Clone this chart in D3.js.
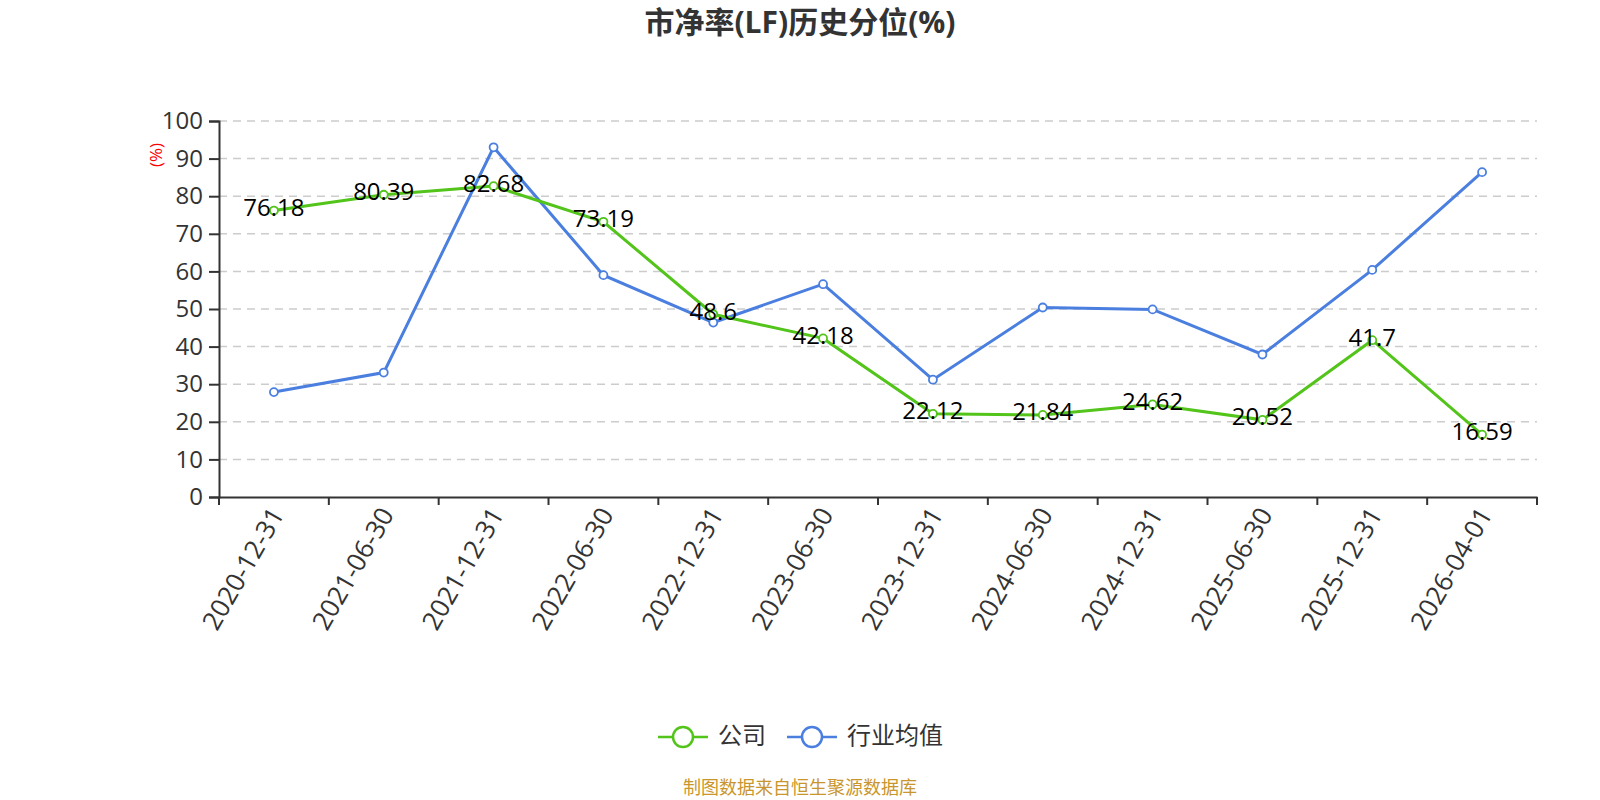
<!DOCTYPE html>
<html>
<head>
<meta charset="utf-8">
<script src="https://cdn.jsdelivr.net/npm/d3@7/dist/d3.min.js"></script>
<style>
  body { margin: 0; background: #fff; }
  svg { font-family: "Open Sans", "Noto Sans CJK SC", sans-serif; }
</style>
</head>
<body>
<svg id="chart" width="1600" height="800"></svg>
<script>
const categories = ["2020-12-31", "2021-06-30", "2021-12-31", "2022-06-30", "2022-12-31", "2023-06-30",
  "2023-12-31", "2024-06-30", "2024-12-31", "2025-06-30", "2025-12-31", "2026-04-01"];
const company = [76.18, 80.39, 82.68, 73.19, 48.6, 42.18, 22.12, 21.84, 24.62, 20.52, 41.7, 16.59];
const industry = [27.9, 33.1, 93.0, 59.0, 46.4, 56.6, 31.2, 50.4, 49.9, 37.9, 60.4, 86.4];
const yTicks = [0, 10, 20, 30, 40, 50, 60, 70, 80, 90, 100];

const svg = d3.select("#chart");
const margin = { top: 121, right: 63, bottom: 303, left: 219 };
const width = 1600 - margin.left - margin.right;
const height = 800 - margin.top - margin.bottom;

const x = d3.scaleBand().domain(categories).range([margin.left, margin.left + width]);
const y = d3.scaleLinear().domain([0, 100]).range([margin.top + height, margin.top]);
const cx = d => x(d) + x.bandwidth() / 2;

// title
svg.append("text")
  .attr("x", 800).attr("y", 33)
  .attr("text-anchor", "middle")
  .attr("font-size", 30).attr("font-weight", "bold")
  .attr("fill", "#333")
  .text("市净率(LF)历史分位(%)");

// grid
svg.append("g")
  .selectAll("line")
  .data(yTicks.filter(d => d > 0))
  .enter()
  .append("line")
  .attr("x1", margin.left).attr("x2", margin.left + width)
  .attr("y1", d => y(d)).attr("y2", d => y(d))
  .attr("stroke", "#ccc").attr("stroke-width", 1.5)
  .attr("stroke-dasharray", "8,6");

// y axis
const yAxis = svg.append("g")
  .attr("transform", `translate(${margin.left}, 0)`)
  .call(d3.axisLeft(y).tickValues(yTicks).tickSize(10).tickPadding(6));
yAxis.select(".domain").attr("stroke", "#333").attr("stroke-width", 2);
yAxis.selectAll(".tick line").attr("stroke", "#333").attr("stroke-width", 2);
yAxis.selectAll(".tick text").attr("font-size", 24).attr("fill", "#333")
  .attr("font-family", "'Open Sans', sans-serif");

svg.append("text")
  .attr("transform", `translate(162, 155) rotate(-90)`)
  .attr("text-anchor", "middle")
  .attr("font-size", 17).attr("fill", "red")
  .text("(%)");

// x axis
const xAxis = svg.append("g")
  .attr("transform", `translate(0, ${margin.top + height})`)
  .call(d3.axisBottom(x).tickSize(0).tickFormat(""));
xAxis.select(".domain").attr("stroke", "#333").attr("stroke-width", 2);
xAxis.selectAll(".tick").remove();

const edges = categories.map(d => x(d)).concat([margin.left + width]);
svg.append("g")
  .selectAll("line")
  .data(edges)
  .enter()
  .append("line")
  .attr("x1", d => d).attr("x2", d => d)
  .attr("y1", margin.top + height).attr("y2", margin.top + height + 8)
  .attr("stroke", "#333").attr("stroke-width", 2);

svg.append("g")
  .selectAll("text")
  .data(categories)
  .enter()
  .append("text")
  .attr("transform", d => `translate(${cx(d) + 5}, ${margin.top + height + 14}) rotate(-60)`)
  .attr("text-anchor", "end")
  .attr("dominant-baseline", "middle")
  .attr("font-size", 26).attr("fill", "#333")
  .text(d => d);

// lines
const series = [
  { name: "公司", values: company, color: "#52c41a" },
  { name: "行业均值", values: industry, color: "#4a7fe0" }
];

const line = d3.line()
  .x((d, i) => cx(categories[i]))
  .y(d => y(d));

series.slice().reverse().forEach(s => {
  const g = svg.append("g");
  g.append("path")
    .datum(s.values)
    .attr("d", line)
    .attr("fill", "none")
    .attr("stroke", s.color)
    .attr("stroke-width", 3);
  g.selectAll("circle")
    .data(s.values)
    .enter()
    .append("circle")
    .attr("cx", (d, i) => cx(categories[i]))
    .attr("cy", d => y(d))
    .attr("r", 4)
    .attr("fill", "#fff")
    .attr("stroke", s.color)
    .attr("stroke-width", 1.8);
});

svg.append("g")
  .selectAll("text")
  .data(company)
  .enter()
  .append("text")
  .attr("x", (d, i) => cx(categories[i]))
  .attr("y", d => y(d) - 1)
  .attr("text-anchor", "middle")
  .attr("dominant-baseline", "middle")
  .attr("font-size", 24).attr("fill", "#000")
  .text(d => d);

// legend
const legend = svg.append("g");
const legendItems = [
  { name: "公司", color: "#52c41a", x: 658 },
  { name: "行业均值", color: "#4a7fe0", x: 787 }
];
legendItems.forEach(l => {
  legend.append("line")
    .attr("x1", l.x).attr("x2", l.x + 50)
    .attr("y1", 737).attr("y2", 737)
    .attr("stroke", l.color).attr("stroke-width", 2.5);
  legend.append("circle")
    .attr("cx", l.x + 25).attr("cy", 737).attr("r", 10)
    .attr("fill", "#fff").attr("stroke", l.color).attr("stroke-width", 2.5);
  legend.append("text")
    .attr("x", l.x + 60).attr("y", 737)
    .attr("dominant-baseline", "middle")
    .attr("font-size", 24).attr("fill", "#333")
    .attr("font-family", "'Noto Sans CJK SC', sans-serif")
    .text(l.name);
});

// source
svg.append("text")
  .attr("x", 800).attr("y", 789)
  .attr("text-anchor", "middle")
  .attr("dominant-baseline", "middle")
  .attr("font-size", 18).attr("fill", "#c9962e")
  .attr("font-family", "'Noto Sans CJK SC', sans-serif")
  .text("制图数据来自恒生聚源数据库");
</script>
</body>
</html>
